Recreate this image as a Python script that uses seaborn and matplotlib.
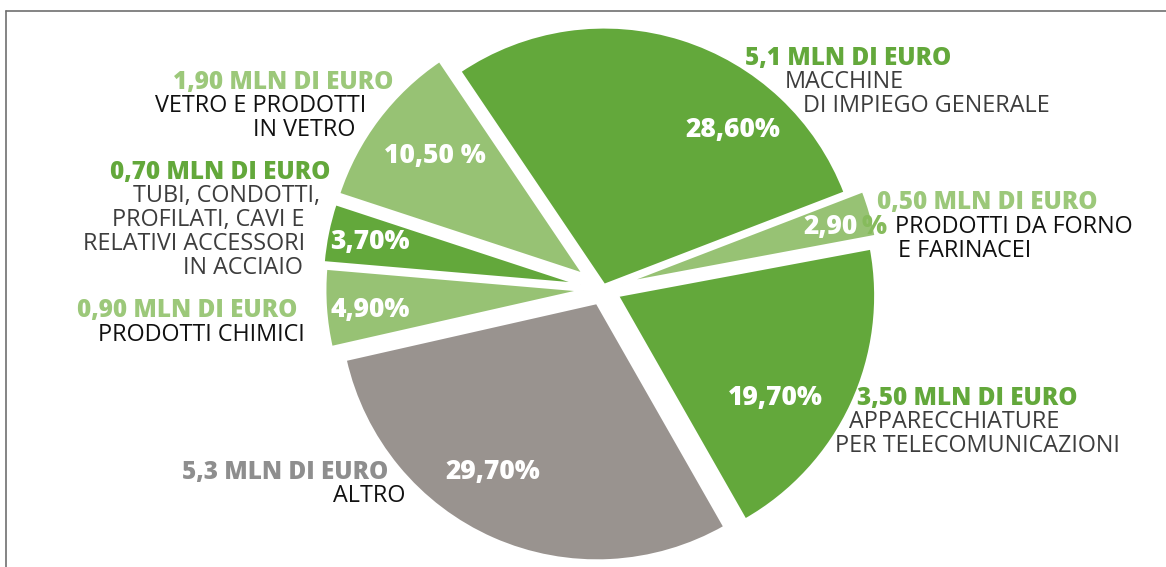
import matplotlib
matplotlib.use("Agg")
import matplotlib.pyplot as plt
from matplotlib.lines import Line2D
import seaborn as sns

# Export value by sector (clockwise from the top-left)
sectors = ["MACCHINE\nDI IMPIEGO GENERALE", "PRODOTTI DA FORNO\nE FARINACEI",
           "APPARECCHIATURE\nPER TELECOMUNICAZIONI", "ALTRO", "PRODOTTI CHIMICI",
           "TUBI, CONDOTTI,\nPROFILATI, CAVI E\nRELATIVI ACCESSORI\nIN ACCIAIO",
           "VETRO E PRODOTTI\nIN VETRO"]
shares = [28.60, 2.90, 19.70, 29.70, 4.90, 3.70, 10.50]
share_labels = ["28,60%", "2,90 %", "19,70%", "29,70%", "4,90%", "3,70%", "10,50 %"]
amount_labels = ["5,1 MLN DI EURO", "0,50 MLN DI EURO", "3,50 MLN DI EURO",
                 "5,3 MLN DI EURO", "0,90 MLN DI EURO", "0,70 MLN DI EURO",
                 "1,90 MLN DI EURO"]

DARK = "#63a83b"
LIGHT = "#97c274"
GREY = "#99938f"
wedge_colors = [DARK, LIGHT, DARK, GREY, LIGHT, DARK, LIGHT]
amount_colors = [DARK, "#9cc87a", DARK, "#8e8e8e", "#9cc87a", DARK, "#9cc87a"]
name_colors = ["#3d3d3d", "#111111", "#3d3d3d", "#111111", "#111111", "#3d3d3d", "#111111"]
# wedge offsets from the centre, in pixels
explode = [4, 20, 16, 15, 20, 23, 24]

sns.set_theme(style="white")
plt.rcParams["font.family"] = ["Open Sans", "DejaVu Sans"]

W, H = 1166, 567
fig = plt.figure(figsize=(W / 100, H / 100), dpi=100)
ax = fig.add_axes([0, 0, 1, 1])

ax.pie(shares, colors=wedge_colors, explode=explode, startangle=-124,
       counterclock=True, center=(603, 289), radius=258,
       wedgeprops=dict(linewidth=2, edgecolor="white"), frame=True)
ax.set_xlim(0, W)
ax.set_ylim(H, 0)
ax.set_aspect("equal")
ax.axis("off")

PCT = dict(color="white", fontsize=19, fontweight=800, va="center")
# percentage labels inside the wedges
pct_pos = [(733, 130), (858, 227), (775, 398), (493, 472), (370, 310), (370, 242), (435, 156)]
for (x, y), s in zip(pct_pos, share_labels):
    if s.endswith(" %") and x > 800:
        ax.text(x, y, s[:-2], ha="right", **PCT)
        ax.text(x + 4, y, "%", ha="left", **{**PCT, "color": "#86bb5c"})
    else:
        ax.text(x, y, s, ha="center", **PCT)

# amount + sector name blocks
blocks = [
    (745, 58, "left"), (877, 203, "left"), (857, 398, "left"),
    (388, 472, "right"), (297, 311, "right"), (330, 172, "right"), (393, 82, "right"),
]
name_offsets = [
    [(785, "left"), (803, "left")],
    [(895, "left"), (898, "left")],
    [(849, "left"), (835, "left")],
    [(405, "right")],
    [(305, "right")],
    [(320, "right"), (305, "right"), (305, "right"), (303, "right")],
    [(366, "right"), (355, "right")],
]
LINE = 24
for i, ((x, y, ha), amt) in enumerate(zip(blocks, amount_labels)):
    ax.text(x, y, amt, color=amount_colors[i], fontsize=17.5, fontweight=800,
            ha=ha, va="center")
    for j, (line, (lx, lha)) in enumerate(zip(sectors[i].split("\n"), name_offsets[i])):
        ax.text(lx, y + LINE * (j + 1), line, color=name_colors[i], fontsize=16.8,
                ha=lha, va="center")

# frame on the top and left edges
fig.add_artist(Line2D([6 / W, 1], [1 - 10.5 / H, 1 - 10.5 / H], color="#707070", lw=1.2))
fig.add_artist(Line2D([6 / W, 6 / W], [0, 1 - 10.5 / H], color="#707070", lw=1.2))

fig.savefig("out.png", dpi=100, facecolor="white")
